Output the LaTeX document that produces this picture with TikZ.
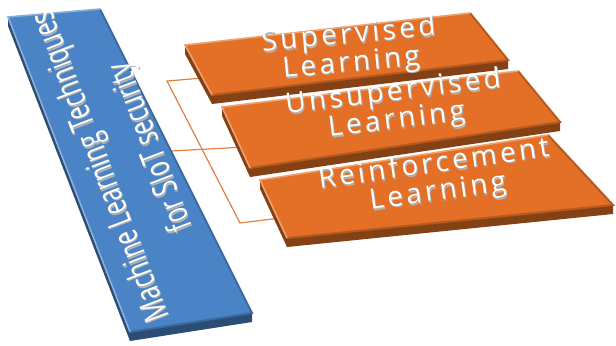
\documentclass[tikz,border=0pt]{standalone}
\usepackage{fontspec}
\setmainfont{Open Sans}
\newfontfamily\slabfont[LetterSpace=12]{Open Sans}
\usetikzlibrary{calc}

\definecolor{barblue}{RGB}{74,132,198}
\definecolor{boxorange}{RGB}{227,112,38}
\definecolor{linkorange}{RGB}{226,128,64}

\tikzset{%
  slab label/.style={
    text=white,
    align=center,
    inner sep=0pt,
    font=\slabfont\fontsize{14}{14}\selectfont
  },
  bar label/.style={
    text=white,
    align=center,
    inner sep=0pt,
    rotate=111,
    xscale=0.7,
    font=\fontsize{17}{27}\selectfont
  },
  shadow/.style={
    text=black!30
  },
  link/.style={
    draw=linkorange,
    line width=0.6pt
  },
}

\begin{document}
\begin{tikzpicture}[x=0.5pt, y=-0.5pt]

    \useasboundingbox (0,0) rectangle (616,345);

    % corners of every slab: a top left, b top right, c bottom right, d bottom left
    \foreach \n/\ax/\ay/\bx/\by/\cx/\cy/\qx/\qy in {
        mlt/8/17/100/9/252/313/130/332,
        sup/185/45/470/13/508/60/212/95,
        uns/222/107/518/71/560/122/250/168,
        rei/260/180/548/135/613/205/287/238}
    {
      \coordinate (\n-a) at (\ax,\ay);
      \coordinate (\n-b) at (\bx,\by);
      \coordinate (\n-c) at (\cx,\cy);
      \coordinate (\n-d) at (\qx,\qy);
      \coordinate (\n-in) at ($(\n-a)!0.66!(\n-d)$);
    }

    % bracket from the bar to the three boxes
    \coordinate (trunk-top) at (167,81);
    \coordinate (trunk-bot) at (240,223);
    \coordinate (mlt-out) at (171,151);

    \draw [link] (sup-in) -- (trunk-top) -- (trunk-bot) -- (rei-in);
    \draw [link] (mlt-out) -- (uns-in);

    % slabs: dark sides first, then the top face and its rim
    \foreach \n/\c in {mlt/barblue, sup/boxorange, uns/boxorange, rei/boxorange} {
      \fill [\c!58!black] (\n-a) -- (\n-b) -- (\n-c) -- ++(0,9)
        -- ($(\n-d)+(0,9)$) -- ($(\n-a)+(0,9)$) -- cycle;
      \fill [\c] (\n-a) -- (\n-b) -- (\n-c) -- (\n-d) -- cycle;
      \draw [\c!80!black, line width=1pt] (\n-b) -- (\n-c) -- (\n-d);
      \draw [\c!65!white, line width=0.8pt] (\n-d) -- (\n-a) -- (\n-b);
    }

    % labels, each with a soft drop shadow
    \foreach \n/\px/\py/\r/\t in {
        sup/350/50/5.5/{Supervised\\Learning},
        uns/395/107/7/{Unsupervised\\Learning},
        rei/436/179/8/{Reinforcement\\Learning}}
    {
      \node [slab label, shadow, rotate=\r] at ($(\px,\py)+(1,1.5)$) {\t};
      \node [slab label, rotate=\r] (\n-label) at (\px,\py) {\t};
    }

    \node [bar label, shadow] at (128,157.5)
      {Machine Learning Techniques\\for SIoT security};
    \node [bar label] (mlt-label) at (127,156)
      {Machine Learning Techniques\\for SIoT security};

\end{tikzpicture}
\end{document}
